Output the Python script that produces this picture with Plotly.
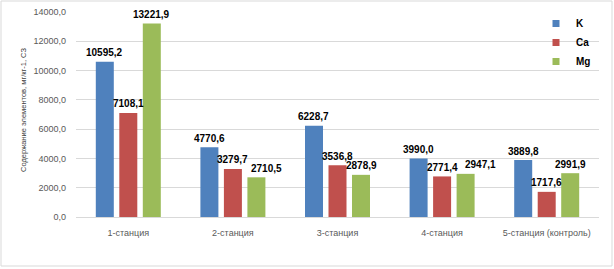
import plotly.graph_objects as go

categories = ["1-станция", "2-станция", "3-станция", "4-станция", "5-станция (контроль)"]
k_vals = [10595.2, 4770.6, 6228.7, 3990.0, 3889.8]
ca_vals = [7108.1, 3279.7, 3536.8, 2771.4, 1717.6]
mg_vals = [13221.9, 2710.5, 2878.9, 2947.1, 2991.9]
series_names = ["K", "Ca", "Mg"]
colors = ["#4F81BD", "#C0504D", "#9BBB59"]
y_title = "Содержание элементов, мг/кг-1, СЗ"

W, H = 614, 269
L, R, T, B = 76, 15, 12, 52
pw = W - L - R
ph = H - T - B
BARGAP, GROUPGAP = 0.326, 0.234
slot_px = pw / len(categories) * (1 - BARGAP) / len(series_names)
# manual nudges of a few data labels (style only), keyed by (series, category index)
label_nudge = {("Mg", 1): 10, ("Mg", 3): 15}

fig = go.Figure()
all_vals = [k_vals, ca_vals, mg_vals]
for name, vals, c in zip(series_names, all_vals, colors):
    fig.add_trace(go.Bar(
        x=categories, y=vals, name=name, showlegend=False,
        marker=dict(color=c, line=dict(width=0)),
        hovertemplate="%{x}<br>" + name + ": %{y:.1f}<extra></extra>",
    ))
for name, c in zip(series_names, colors):
    fig.add_trace(go.Scatter(
        x=[None], y=[None], mode="markers", name=name,
        marker=dict(symbol="square", size=7, color=c),
    ))

for si, (name, vals) in enumerate(zip(series_names, all_vals)):
    for ci, (cat, v) in enumerate(zip(categories, vals)):
        fig.add_annotation(
            x=cat, y=v, xref="x", yref="y",
            text="<b>" + f"{v:.1f}".replace(".", ",") + "</b>",
            showarrow=False, yanchor="bottom", xanchor="center",
            xshift=(si - 1) * slot_px + label_nudge.get((name, ci), 0),
            yshift=1.5,
            font=dict(family="Liberation Sans, Arial", size=10, color="#000000"),
        )

fig.update_layout(
    width=W, height=H,
    margin=dict(l=L, r=R, t=T, b=B, autoexpand=False),
    paper_bgcolor="white", plot_bgcolor="white",
    separators=", ",
    barmode="group", bargap=BARGAP, bargroupgap=GROUPGAP,
    font=dict(family="Liberation Sans, Arial", size=9, color="#595959"),
    showlegend=True,
    legend=dict(
        x=(536 - L) / pw, y=1 - (9 - T) / ph, xanchor="left", yanchor="top",
        bgcolor="rgba(0,0,0,0)",
        font=dict(family="Liberation Sans, Arial", size=10, color="#000000", weight="bold"),
        itemwidth=30, tracegroupgap=0,
    ),
)
fig.update_xaxes(
    showgrid=False, showline=False, zeroline=False,
    ticks="", ticklabelstandoff=9,
    tickfont=dict(size=9, color="#595959"),
)
fig.update_yaxes(
    range=[0, 14000], dtick=2000, tickformat=".1f",
    showgrid=True, gridcolor="#D9D9D9", gridwidth=1,
    zeroline=True, zerolinecolor="#D9D9D9", zerolinewidth=1,
    showline=False,
    ticks="", ticklabelstandoff=9,
    tickfont=dict(size=9, color="#595959"),
)
fig.add_annotation(
    text=y_title, textangle=-90, xref="paper", yref="paper",
    x=(23 - L) / pw, y=(T + ph - 110) / ph, xanchor="center", yanchor="middle",
    showarrow=False, font=dict(size=7.5, color="#404040"),
)
fig.add_shape(
    type="rect", xref="paper", yref="paper",
    x0=(1 - L) / pw, x1=(612 - L) / pw,
    y0=(T + ph - 266) / ph, y1=(T + ph - 1) / ph,
    line=dict(color="#D9D9D9", width=1), fillcolor="rgba(0,0,0,0)", layer="below",
)
fig.write_html("out.html", config={"displayModeBar": False},
               post_script="document.body.style.margin='0';")
